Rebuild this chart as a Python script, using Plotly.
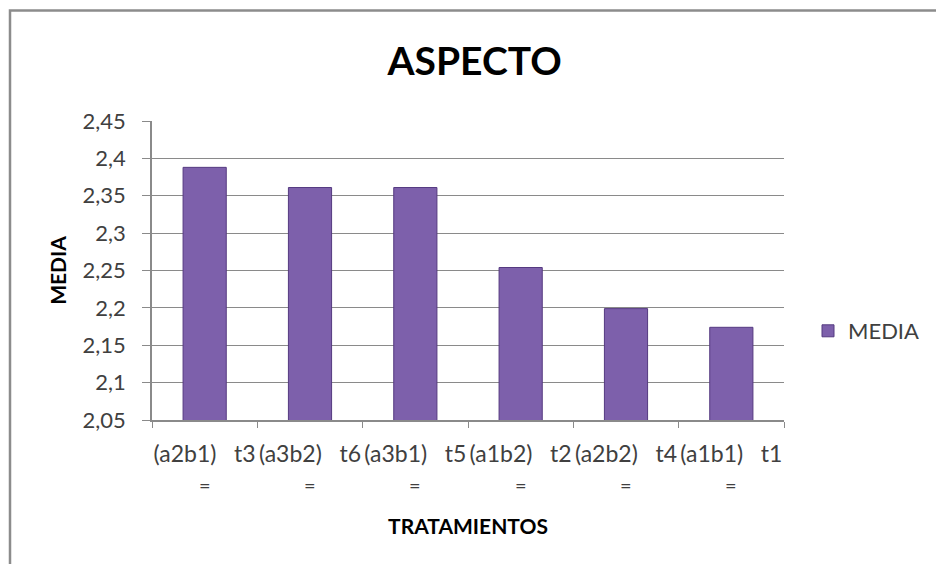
import plotly.graph_objects as go

categories = ["t3 (a2b1)", "t6 (a3b2)", "t5 (a3b1)", "t2 (a1b2)", "t4 (a2b2)", "t1 (a1b1)"]
tick_labels = ["(a2b1)\u00a0\u00a0\u00a0t3", "(a3b2)\u00a0\u00a0\u00a0t6", "(a3b1)\u00a0\u00a0\u00a0t5",
               "(a1b2)\u00a0\u00a0\u00a0t2", "(a2b2)\u00a0\u00a0\u00a0t4", "(a1b1)\u00a0\u00a0\u00a0t1"]
media = [2.388, 2.361, 2.361, 2.254, 2.199, 2.174]
y_ticks = [2.05, 2.1, 2.15, 2.2, 2.25, 2.3, 2.35, 2.4, 2.45]
y_tick_labels = ["2,05", "2,1", "2,15", "2,2", "2,25", "2,3", "2,35", "2,4", "2,45"]

FONT = "Lato"
grid = "#8a8a8a"

fig = go.Figure()
fig.add_trace(go.Bar(
    x=categories, y=media, name="MEDIA",
    marker=dict(color="#7d60ab", line=dict(color="#553a80", width=1)),
    width=0.41,
))

annotations = [
    dict(x=c, y=-0.218, xref="x", yref="paper", text="=", showarrow=False,
         font=dict(family=FONT, size=20, color="#404040"), xanchor="center", yanchor="middle")
    for c in categories
]

fig.update_layout(
    width=936, height=564,
    margin=dict(l=152, r=152, t=121, b=144),
    paper_bgcolor="white", plot_bgcolor="white",
    separators=",.",
    font=dict(family=FONT, color="#404040", size=22),
    title=dict(text="<b>ASPECTO</b>", x=0.507, xref="container", xanchor="center",
               y=1 - 61 / 564, yref="container", yanchor="middle",
               font=dict(family=FONT, size=39, color="black")),
    showlegend=True,
    legend=dict(x=808 / 936, y=1 - 331 / 564, xref="container", yref="container",
                xanchor="left", yanchor="middle",
                font=dict(family=FONT, size=22, color="#404040"),
                bgcolor="rgba(0,0,0,0)", itemwidth=30),
    bargap=0.6,
    xaxis=dict(
        tickmode="array", tickvals=categories, ticktext=tick_labels,
        tickson="boundaries", ticks="outside", ticklen=6, tickcolor=grid,
        tickangle=0, automargin=False, ticklabelstandoff=13,
        showline=True, linecolor=grid, linewidth=1.5,
        tickfont=dict(family=FONT, size=23, color="#404040"),
        title=dict(text="<b>TRATAMIENTOS</b>", standoff=53,
                   font=dict(family=FONT, size=21, color="black")),
    ),
    yaxis=dict(
        range=[2.05, 2.45], tickmode="array", tickvals=y_ticks, ticktext=y_tick_labels,
        ticks="outside", ticklen=8, tickcolor=grid, automargin=False,
        ticklabelstandoff=12,
        showline=True, linecolor=grid, linewidth=1.5,
        showgrid=True, gridcolor=grid, gridwidth=1.2,
        tickfont=dict(family=FONT, size=22, color="#404040"),
        title=dict(text="<b>MEDIA</b>", standoff=10,
                   font=dict(family=FONT, size=21, color="black")),
        zeroline=False,
    ),
    annotations=annotations,
    shapes=[dict(type="rect", xref="paper", yref="paper",
                 x0=(10 - 152) / 632, x1=1.6,
                 y0=-1.0, y1=(420 - 10.5) / 299,
                 line=dict(color="#8c8c8c", width=2.5), layer="below")],
)

fig.write_html("out.html")
